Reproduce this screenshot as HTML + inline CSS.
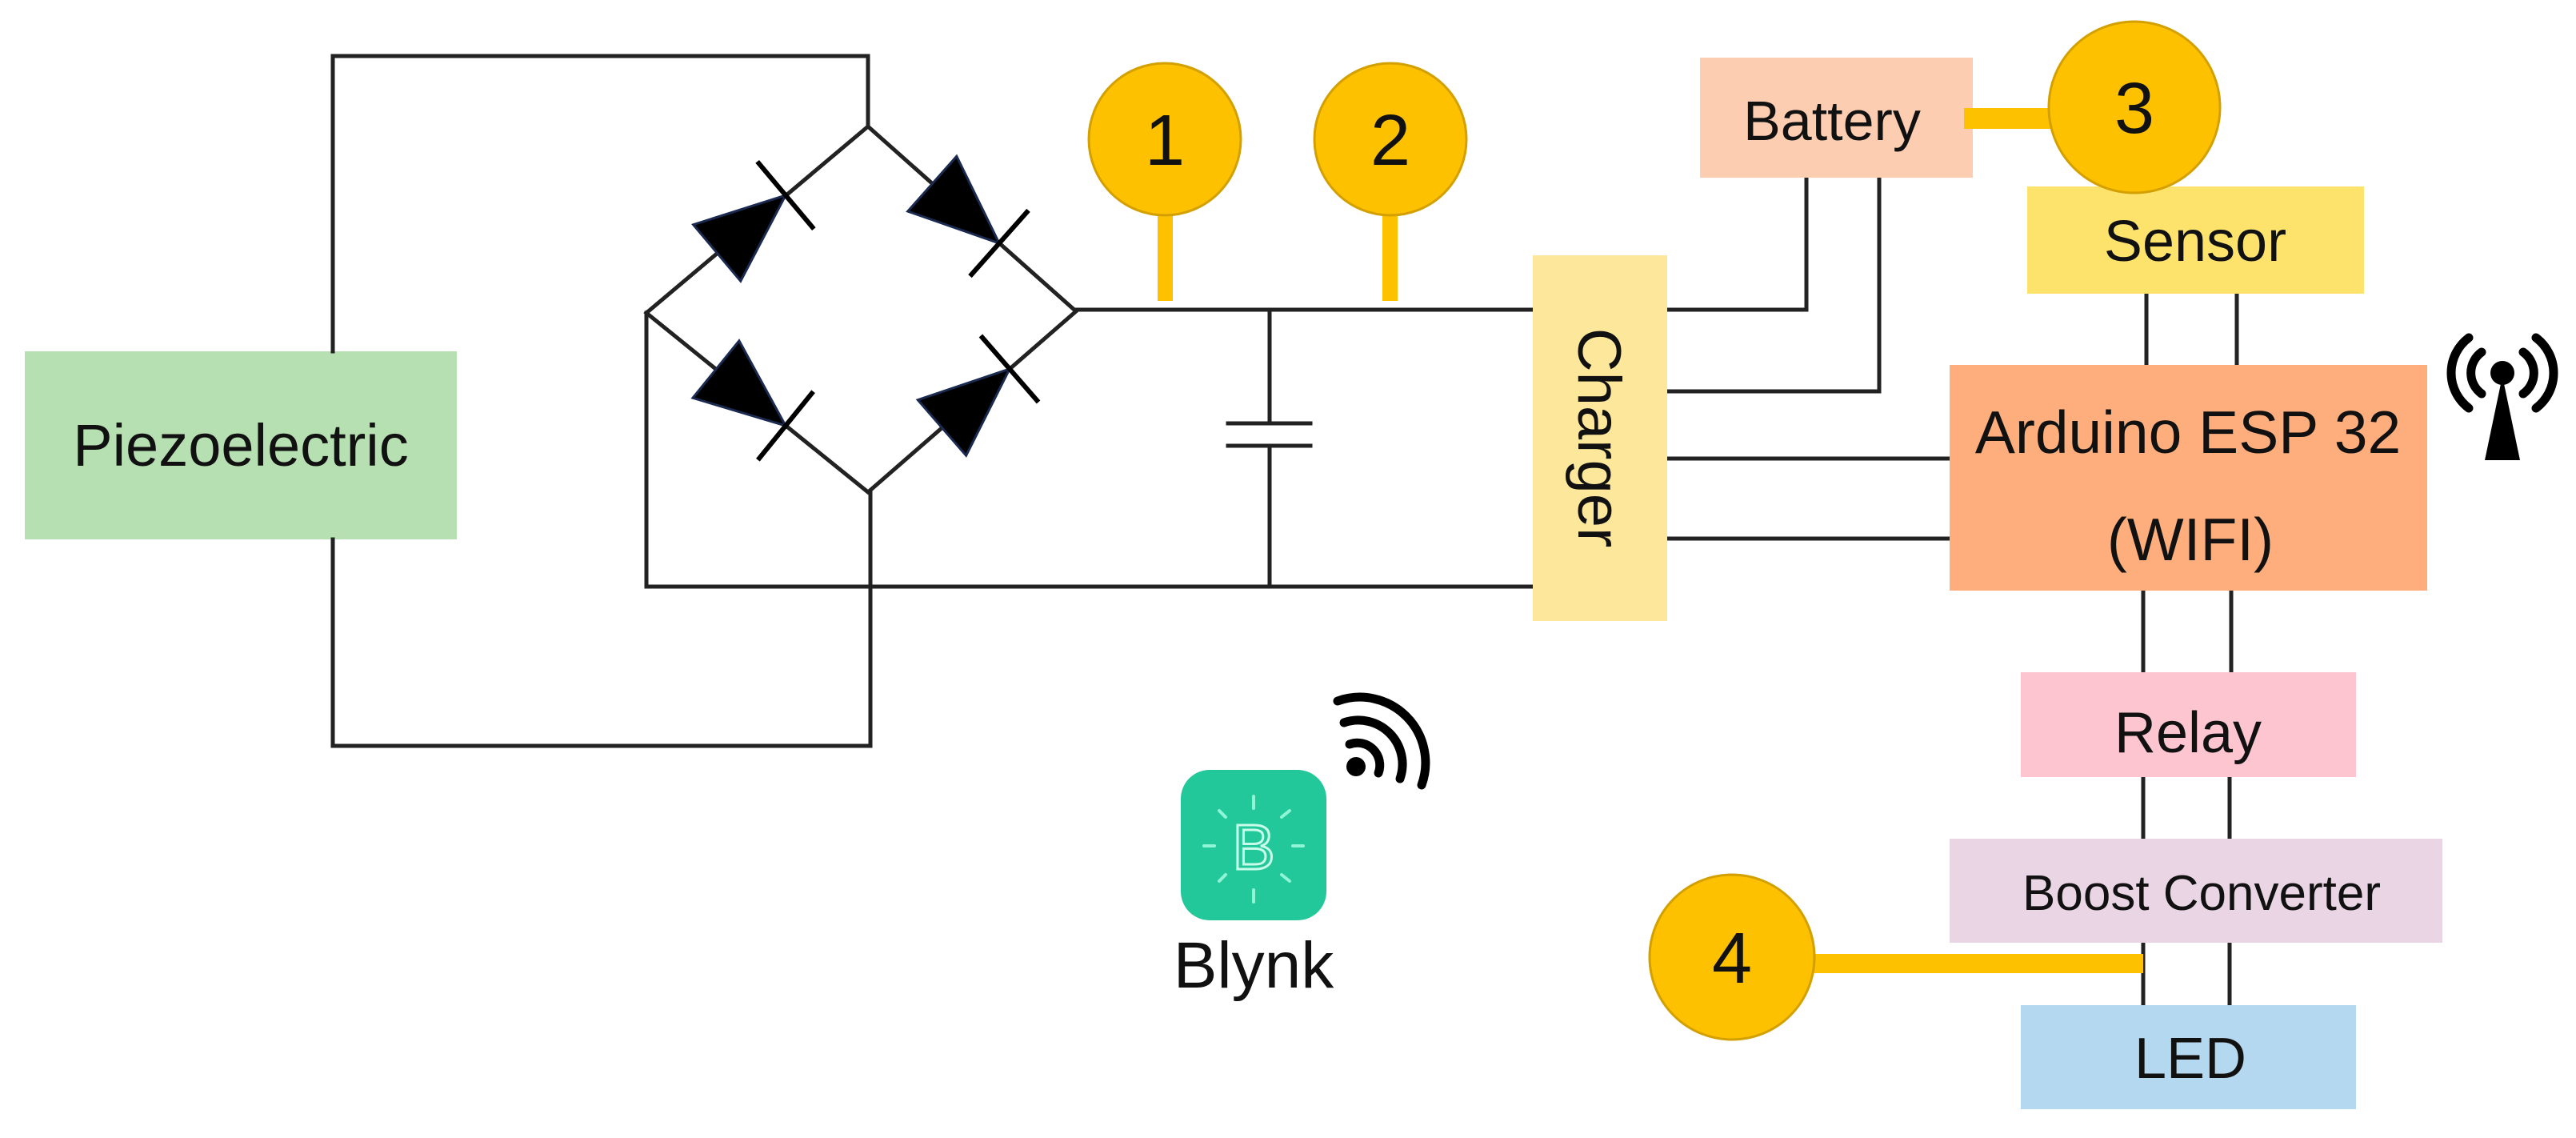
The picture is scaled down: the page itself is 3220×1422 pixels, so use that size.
<!DOCTYPE html>
<html><head><meta charset="utf-8"><style>
html,body{margin:0;padding:0;background:#fff;}
svg{display:block;}
text{font-family:"Liberation Sans","DejaVu Sans",sans-serif;fill:#111;}
</style></head><body>
<svg width="3220" height="1422" viewBox="0 0 3220 1422" xmlns="http://www.w3.org/2000/svg">
<rect x="31" y="439" width="540" height="235" fill="#b7e0b2"/>
<text x="301" y="582" font-size="74" text-anchor="middle">Piezoelectric</text>

<g stroke="#222" stroke-width="5" fill="none" stroke-linecap="square">
<polyline points="416,439 416,70 1085,70 1085,158"/>
<polyline points="416,674 416,932 1088,932 1088,615"/>
<polyline points="808,391 1085,158 1345,389 1085,615 808,391"/>
<line x1="808" y1="391" x2="808" y2="733"/>
<line x1="808" y1="733" x2="1916" y2="733"/>
<line x1="1345" y1="387" x2="1916" y2="387"/>
<line x1="1587" y1="387" x2="1587" y2="529"/>
<line x1="1587" y1="557" x2="1587" y2="733"/>
<line x1="1535" y1="529" x2="1638" y2="529"/>
<line x1="1535" y1="557" x2="1638" y2="557"/>
<polyline points="2258,222 2258,387 2084,387"/>
<polyline points="2349,222 2349,489 2084,489"/>
<line x1="2084" y1="573" x2="2437" y2="573"/>
<line x1="2080" y1="673" x2="2437" y2="673"/>
<line x1="2683" y1="367" x2="2683" y2="456"/>
<line x1="2796" y1="367" x2="2796" y2="456"/>
<line x1="2679" y1="738" x2="2679" y2="840"/>
<line x1="2789" y1="738" x2="2789" y2="840"/>
<line x1="2679" y1="971" x2="2679" y2="1048"/>
<line x1="2787" y1="971" x2="2787" y2="1048"/>
<line x1="2679" y1="1178" x2="2679" y2="1256"/>
<line x1="2787" y1="1178" x2="2787" y2="1256"/>
</g>

<g fill="#000" stroke="#000" stroke-width="6">
<g transform="translate(982,244) rotate(-40)"><polygon points="-112,-46 -112,46 0,0" stroke="#1a2a50" stroke-width="3"/><line x1="0" y1="-55" x2="0" y2="55"/></g>
<g transform="translate(1249,304) rotate(41.6)"><polygon points="-112,-46 -112,46 0,0" stroke="#1a2a50" stroke-width="3"/><line x1="0" y1="-55" x2="0" y2="55"/></g>
<g transform="translate(982,532) rotate(39)"><polygon points="-112,-46 -112,46 0,0" stroke="#1a2a50" stroke-width="3"/><line x1="0" y1="-55" x2="0" y2="55"/></g>
<g transform="translate(1262,461) rotate(-41)"><polygon points="-112,-46 -112,46 0,0" stroke="#1a2a50" stroke-width="3"/><line x1="0" y1="-55" x2="0" y2="55"/></g>
</g>

<rect x="1916" y="319" width="168" height="457" fill="#fde79a"/>
<text transform="translate(1973,547) rotate(90)" font-size="76" text-anchor="middle">Charger</text>

<rect x="2125" y="72" width="341" height="150" fill="#fccdb0"/>
<text x="2290" y="175" font-size="70" text-anchor="middle">Battery</text>
<rect x="2534" y="233" width="421" height="134" fill="#fde36c"/>
<text x="2744" y="326" font-size="72" text-anchor="middle">Sensor</text>
<rect x="2437" y="456" width="597" height="282" fill="#fdae7c"/>
<text x="2735" y="566" font-size="75" text-anchor="middle">Arduino ESP 32</text>
<text x="2738" y="700" font-size="75" text-anchor="middle">(WIFI)</text>
<rect x="2526" y="840" width="419" height="131" fill="#fcc5d0"/>
<text x="2735" y="940" font-size="72" text-anchor="middle">Relay</text>
<rect x="2437" y="1048" width="616" height="130" fill="#ead5e5"/>
<text x="2752" y="1137" font-size="62" text-anchor="middle">Boost Converter</text>
<rect x="2526" y="1256" width="419" height="130" fill="#b4d8ef"/>
<text x="2738" y="1347" font-size="72" text-anchor="middle">LED</text>

<g fill="none" stroke="#000" stroke-width="11" stroke-linecap="round">
<path d="M3102,440 A32,32 0 0 0 3102,492"/>
<path d="M3154,440 A32,32 0 0 1 3154,492"/>
<path d="M3086,422 A55,55 0 0 0 3086,510"/>
<path d="M3170,422 A55,55 0 0 1 3170,510"/>
</g>
<circle cx="3128" cy="466" r="15" fill="#000"/>
<polygon points="3128,470 3106,575 3150,575" fill="#000"/>

<g fill="#fdc100" stroke="#d3a000" stroke-width="3">
<rect x="1447" y="262" width="19" height="114" stroke="none"/>
<rect x="1728" y="262" width="19" height="114" stroke="none"/>
<rect x="2455" y="135" width="115" height="26" stroke="none"/>
<rect x="2260" y="1192" width="419" height="24" stroke="none"/>
<circle cx="1456" cy="174" r="95"/>
<circle cx="1738" cy="174" r="95"/>
<circle cx="2668" cy="134" r="107"/>
<circle cx="2165" cy="1196" r="103"/>
</g>
<g font-size="90" text-anchor="middle">
<text x="1456" y="206">1</text>
<text x="1738" y="206">2</text>
<text x="2668" y="166">3</text>
<text x="2165" y="1228">4</text>
</g>

<rect x="1476" y="962" width="182" height="188" rx="36" fill="#22c89a"/>
<text x="1567" y="1086" font-size="80" text-anchor="middle" style="fill:none;stroke:#c8fbea;stroke-width:3">B</text>
<g stroke="#8ff5d6" stroke-width="4" stroke-linecap="round">
<line x1="1567" y1="995" x2="1567" y2="1010"/><line x1="1567" y1="1112" x2="1567" y2="1127"/>
<line x1="1505" y1="1057" x2="1518" y2="1057"/><line x1="1616" y1="1057" x2="1629" y2="1057"/>
<line x1="1524" y1="1013" x2="1532" y2="1021"/><line x1="1602" y1="1021" x2="1612" y2="1013"/>
<line x1="1524" y1="1101" x2="1532" y2="1093"/><line x1="1602" y1="1093" x2="1612" y2="1101"/>
</g>
<text x="1567" y="1234" font-size="82" text-anchor="middle">Blynk</text>
<circle cx="1695" cy="958" r="12" fill="#000"/>
<g fill="none" stroke="#000" stroke-width="11" stroke-linecap="round">
<path d="M1687,930 A28,28 0 0 1 1723,966"/>
<path d="M1680,903 A55,55 0 0 1 1750,973"/>
<path d="M1672,876 A82,82 0 0 1 1777,981"/>
</g>
</svg>
</body></html>
